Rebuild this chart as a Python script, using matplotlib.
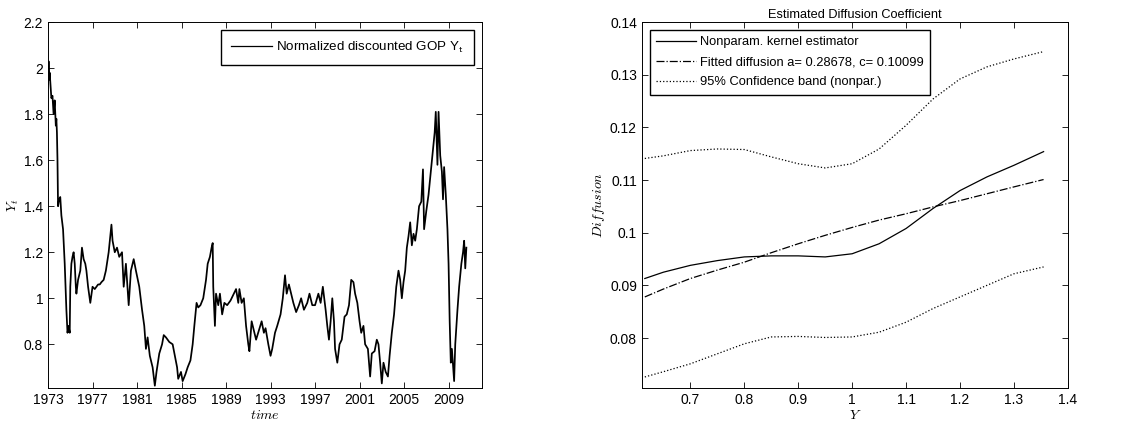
import matplotlib.pyplot as plt
import numpy as np

plt.rcParams['font.family'] = ['Liberation Sans', 'DejaVu Sans']
plt.rcParams['mathtext.fontset'] = 'cm'

### DONNEES - graphe de gauche (GOP actualise normalise)
annees = [1973.0, 1973.05, 1973.1, 1973.15, 1973.3, 1973.4, 1973.5, 1973.6, 1973.7, 1973.75,
          1973.8, 1973.85, 1973.9, 1974.0, 1974.1, 1974.2, 1974.35, 1974.5, 1974.65, 1974.75,
          1974.85, 1974.95, 1975.0, 1975.1, 1975.2, 1975.3, 1975.4, 1975.5, 1975.55, 1975.7,
          1975.9, 1976.05, 1976.2, 1976.35, 1976.45, 1976.6, 1976.8, 1977.0, 1977.2, 1977.35,
          1977.5, 1977.65, 1977.8, 1978.0, 1978.2, 1978.45, 1978.7, 1978.8, 1979.0, 1979.2,
          1979.4, 1979.65, 1979.8, 1980.0, 1980.25, 1980.45, 1980.7, 1980.9, 1981.2, 1981.45,
          1981.65, 1981.8, 1981.95, 1982.15, 1982.4, 1982.6, 1982.75, 1983.0, 1983.25, 1983.4,
          1983.6, 1983.9, 1984.2, 1984.4, 1984.6, 1984.7, 1984.95, 1985.1, 1985.35, 1985.55,
          1985.8, 1986.0, 1986.15, 1986.35, 1986.5, 1986.7, 1986.95, 1987.2, 1987.35, 1987.55,
          1987.7, 1987.8, 1987.85, 1988.0, 1988.1, 1988.3, 1988.45, 1988.65, 1988.85, 1989.1,
          1989.4, 1989.7, 1989.9, 1990.1, 1990.2, 1990.4, 1990.6, 1990.8, 1991.0, 1991.1,
          1991.3, 1991.5, 1991.7, 1991.95, 1992.2, 1992.4, 1992.55, 1992.8, 1993.0, 1993.15,
          1993.4, 1993.6, 1993.9, 1994.1, 1994.3, 1994.45, 1994.65, 1994.85, 1995.05, 1995.3,
          1995.55, 1995.75, 1996.0, 1996.3, 1996.5, 1996.75, 1997.0, 1997.3, 1997.5, 1997.7,
          1997.95, 1998.1, 1998.25, 1998.4, 1998.55, 1998.7, 1998.8, 1999.0, 1999.2, 1999.4,
          1999.65, 1999.85, 2000.05, 2000.25, 2000.45, 2000.6, 2000.8, 2001.0, 2001.15, 2001.35,
          2001.5, 2001.75, 2001.95, 2002.1, 2002.35, 2002.55, 2002.7, 2002.85, 2003.0, 2003.15,
          2003.35, 2003.55, 2003.7, 2003.9, 2004.1, 2004.3, 2004.5, 2004.65, 2004.8, 2004.95,
          2005.1, 2005.25, 2005.4, 2005.55, 2005.7, 2005.85, 2006.0, 2006.15, 2006.35, 2006.55,
          2006.7, 2006.8, 2007.0, 2007.2, 2007.4, 2007.55, 2007.75, 2007.85, 2008.0, 2008.1,
          2008.25, 2008.4, 2008.5, 2008.6, 2008.75, 2008.9, 2009.0, 2009.1, 2009.2, 2009.3,
          2009.5, 2009.6, 2009.8, 2009.95, 2010.15, 2010.3, 2010.4, 2010.5, 2010.6]
gop = [1.93, 2.03, 1.95, 1.98, 1.87, 1.88, 1.80, 1.86, 1.75, 1.78,
       1.72, 1.60, 1.40, 1.43, 1.44, 1.36, 1.30, 1.15, 0.95, 0.85,
       0.88, 0.85, 1.05, 1.15, 1.18, 1.20, 1.15, 1.05, 1.02, 1.08,
       1.12, 1.22, 1.17, 1.15, 1.12, 1.05, 0.98, 1.05, 1.04, 1.05,
       1.06, 1.06, 1.07, 1.08, 1.12, 1.20, 1.32, 1.25, 1.20, 1.22,
       1.18, 1.20, 1.05, 1.15, 0.97, 1.12, 1.17, 1.12, 1.05, 0.95,
       0.88, 0.78, 0.83, 0.75, 0.70, 0.62, 0.68, 0.76, 0.80, 0.84,
       0.83, 0.81, 0.80, 0.75, 0.70, 0.65, 0.68, 0.64, 0.67, 0.70,
       0.73, 0.80, 0.88, 0.98, 0.96, 0.97, 1.00, 1.08, 1.15, 1.18,
       1.22, 1.24, 1.05, 0.88, 1.02, 0.97, 1.02, 0.93, 0.98, 0.97,
       0.99, 1.02, 1.04, 0.98, 1.04, 0.98, 1.00, 0.88, 0.80, 0.77,
       0.90, 0.86, 0.82, 0.86, 0.90, 0.85, 0.87, 0.80, 0.75, 0.78,
       0.85, 0.88, 0.93, 1.00, 1.10, 1.02, 1.06, 1.02, 0.98, 0.94,
       0.97, 1.00, 0.95, 0.98, 1.02, 0.97, 0.97, 1.02, 0.98, 1.05,
       0.95, 0.88, 0.82, 0.90, 1.00, 0.90, 0.78, 0.72, 0.80, 0.82,
       0.92, 0.93, 0.97, 1.08, 1.07, 1.02, 0.98, 0.90, 0.85, 0.88,
       0.80, 0.78, 0.66, 0.76, 0.77, 0.82, 0.80, 0.72, 0.63, 0.72,
       0.68, 0.66, 0.75, 0.85, 0.93, 1.05, 1.12, 1.08, 1.00, 1.07,
       1.12, 1.22, 1.27, 1.33, 1.23, 1.28, 1.25, 1.30, 1.40, 1.42,
       1.56, 1.30, 1.38, 1.45, 1.55, 1.62, 1.72, 1.81, 1.58, 1.81,
       1.62, 1.55, 1.43, 1.57, 1.45, 1.30, 1.15, 0.90, 0.72, 0.78,
       0.64, 0.80, 0.95, 1.05, 1.15, 1.20, 1.25, 1.13, 1.22]

### DONNEES - graphe de droite (coefficient de diffusion)
y_grille = [0.6155, 0.65, 0.7, 0.75, 0.8, 0.85, 0.9, 0.95, 1.0, 1.05,
            1.1, 1.15, 1.2, 1.25, 1.3, 1.355]
diff_noyau = [0.0913, 0.0925, 0.0938, 0.0947, 0.0954, 0.0956, 0.0956, 0.0954, 0.0960, 0.0979,
              0.1008, 0.1046, 0.1080, 0.1106, 0.1128, 0.1154]
diff_ajuste = [0.0878, 0.0893, 0.0913, 0.0929, 0.0944, 0.0962, 0.0979, 0.0995, 0.1010, 0.1024,
               0.1036, 0.1049, 0.1061, 0.1074, 0.1087, 0.1101]
bande_haute = [0.1141, 0.1146, 0.1156, 0.1159, 0.1158, 0.1144, 0.1131, 0.1123, 0.1131, 0.1159,
               0.1204, 0.1254, 0.1292, 0.1315, 0.1330, 0.1344]
bande_basse = [0.0726, 0.0736, 0.0751, 0.0770, 0.0789, 0.0802, 0.0803, 0.0801, 0.0802, 0.0811,
               0.0830, 0.0856, 0.0878, 0.0900, 0.0922, 0.0935]

### FIGURE
fig = plt.figure(figsize=(11.3, 4.25), dpi=100)
ax1 = fig.add_axes([0.0425, 0.087, 0.384, 0.861])
ax2 = fig.add_axes([0.568, 0.087, 0.377, 0.861])

## gauche
ax1.plot(annees, gop, 'k', lw=1.25, label='Normalized discounted GOP Y$_{\\mathsf{t}}$')
ax1.set_xlim(1973, 2012)
ax1.set_ylim(0.61, 2.2)
ax1.set_xticks(np.arange(1973, 2010, 4))
ax1.set_yticks([0.8, 1.0, 1.2, 1.4, 1.6, 1.8, 2.0, 2.2])
ax1.set_yticklabels(['0.8', '1', '1.2', '1.4', '1.6', '1.8', '2', '2.2'])
ax1.set_xlabel('$time$', fontsize=10, labelpad=1)
ax1.set_ylabel('$Y_t$', fontsize=10, labelpad=2)
leg1 = ax1.legend(loc='upper right', fancybox=False, edgecolor='k', handlelength=3.1,
                  handletextpad=0.3, fontsize=9.6, borderaxespad=0.6, borderpad=0.75,
                  framealpha=1)
leg1.get_lines()[0].set_linewidth(0.9)

## droite
ax2.plot(y_grille, diff_noyau, 'k-', lw=0.9, label='Nonparam. kernel estimator')
ax2.plot(y_grille, diff_ajuste, 'k-.', lw=0.9, label='Fitted diffusion a= 0.28678, c= 0.10099')
ax2.plot(y_grille, bande_haute, 'k:', lw=0.9, label='95% Confidence band (nonpar.)')
ax2.plot(y_grille, bande_basse, 'k:', lw=0.9)
ax2.set_xlim(0.61, 1.4)
ax2.set_ylim(0.0705, 0.14)
ax2.set_xticks([0.7, 0.8, 0.9, 1.0, 1.1, 1.2, 1.3, 1.4])
ax2.set_xticklabels(['0.7', '0.8', '0.9', '1', '1.1', '1.2', '1.3', '1.4'])
ax2.set_yticks([0.08, 0.09, 0.1, 0.11, 0.12, 0.13, 0.14])
ax2.set_yticklabels(['0.08', '0.09', '0.1', '0.11', '0.12', '0.13', '0.14'])
ax2.set_title('Estimated Diffusion Coefficient', fontsize=9.2, pad=3)
ax2.set_xlabel('$Y$', fontsize=10, labelpad=1)
ax2.set_ylabel('$Diffusion$', fontsize=10, labelpad=2)
ax2.legend(loc='upper left', fancybox=False, edgecolor='k', handlelength=3.1,
           handletextpad=0.3, fontsize=9.3, borderaxespad=0.6, framealpha=1,
           labelspacing=0.62, borderpad=0.5)

for ax in (ax1, ax2):
    ax.tick_params(direction='in', top=True, right=True, labelsize=10, length=4, width=0.6)
    for s in ax.spines.values():
        s.set_linewidth(0.7)

plt.savefig('out.png')
